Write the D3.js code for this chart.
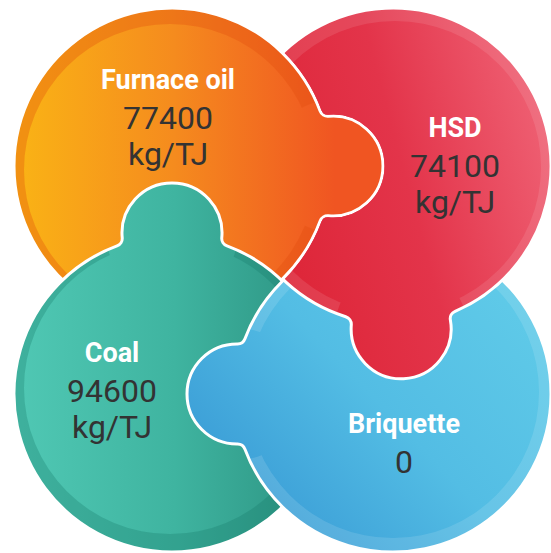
<!DOCTYPE html>
<html lang="en">
<head>
<meta charset="utf-8">
<script src="https://cdn.jsdelivr.net/npm/d3@7"></script>
<style>
  body { margin: 0; background: #fff; }
  svg { display: block; }
  .label { font-family: Roboto, "Noto Sans", sans-serif; font-weight: 700; fill: #fff; }
  .value { font-family: Roboto, "Noto Sans", sans-serif; font-weight: 400; fill: #333; }
</style>
</head>
<body>
<script>
  // data
  var fuels = ["Furnace oil", "HSD", "Coal", "Briquette"];
  var factors = [77400, 74100, 94600, 0];
  var units = ["kg/TJ", "kg/TJ", "kg/TJ", ""];

  var width = 551, height = 553;
  var R = 158, tabR = 50, fillet = 8;

  // grid position of each piece
  var x = d3.scalePoint().domain([0, 1]).range([172, 393]);
  var y = d3.scalePoint().domain([0, 1]).range([166, 394]);

  // layout of each piece: grid cell, tab direction/distance, text anchor, rim
  var layout = [
    {col: 0, row: 0, tab: 0,                 tabD: 161, text: [-4, -77],  rim: [12, -2, 4]},
    {col: 1, row: 0, tab: Math.PI / 2 - 0.05, tabD: 163, text: [62, -29], rim: [12, 2, 1]},
    {col: 0, row: 1, tab: -Math.PI / 2,      tabD: 161, text: [-60, -32], rim: [12, -2, -6]},
    {col: 1, row: 1, tab: Math.PI,           tabD: 156, text: [11, 39],   rim: [12, 0, -2]}
  ];

  var gradients = [
    {x1: 14, y1: 0, x2: 335, y2: 0, stops: ["#fab415", "#f58b1e", "#f05522"]},
    {x1: 250, y1: 200, x2: 551, y2: 120, stops: ["#dd2436", "#e3344a", "#ef6174"]},
    {x1: 14, y1: 0, x2: 335, y2: 0, stops: ["#50c8b4", "#3fb4a0", "#2a8f7e"]},
    {x1: 270, y1: 540, x2: 520, y2: 300, stops: ["#3a9cd6", "#53bde4", "#5fcae8"]}
  ];
  var rimColors = [["#e04a0c", 0.32], ["#ffffff", 0.1], ["#167a69", 0.3], ["#ffffff", 0.12]];

  var svg = d3.select("body").append("svg")
      .attr("width", width)
      .attr("height", height);

  var defs = svg.append("defs");

  gradients.forEach(function(g, i) {
    var lg = defs.append("linearGradient")
        .attr("id", "grad" + i)
        .attr("gradientUnits", "userSpaceOnUse")
        .attr("x1", g.x1).attr("y1", g.y1)
        .attr("x2", g.x2).attr("y2", g.y2);
    lg.selectAll("stop")
      .data(g.stops)
      .enter().append("stop")
        .attr("offset", (d, k) => k / (g.stops.length - 1))
        .attr("stop-color", d => d);
  });

  function geom(i) {
    var L = layout[i];
    var c = [x(L.col), y(L.row)];
    var u = [Math.cos(L.tab), Math.sin(L.tab)];
    var t = [c[0] + L.tabD * u[0], c[1] + L.tabD * u[1]];
    return {c: c, u: u, t: t, ang: L.tab, D: L.tabD};
  }

  // circle with a jigsaw tab, joined by small concave fillets
  function puzzlePath(i) {
    var g = geom(i), c = g.c, t = g.t, u = g.u, v = [-u[1], u[0]];
    var D = g.D, r = tabR, f = fillet;
    var a = ((R + f) * (R + f) - (r + f) * (r + f) + D * D) / (2 * D);
    var h = Math.sqrt((R + f) * (R + f) - a * a);
    var th = Math.atan2(h, a);
    var pP = [c[0] + a * u[0] + h * v[0], c[1] + a * u[1] + h * v[1]];
    var pM = [c[0] + a * u[0] - h * v[0], c[1] + a * u[1] - h * v[1]];
    var ang = (p, q) => Math.atan2(q[1] - p[1], q[0] - p[0]);

    var p = d3.path();
    p.arc(c[0], c[1], R, g.ang + th, g.ang + 2 * Math.PI - th);
    p.arc(pM[0], pM[1], f, ang(pM, c), ang(pM, t), true);
    p.arc(t[0], t[1], r, ang(t, pM), ang(t, pP));
    p.arc(pP[0], pP[1], f, ang(pP, t), ang(pP, c), true);
    p.closePath();
    return p.toString();
  }

  function rimPath(i) {
    var g = geom(i), rim = layout[i].rim;
    var ri = R - rim[0];
    var p = d3.path();
    p.arc(g.c[0], g.c[1], R, 0, 2 * Math.PI);
    p.closePath();
    p.moveTo(g.c[0] + rim[1] + ri, g.c[1] + rim[2]);
    p.arc(g.c[0] + rim[1], g.c[1] + rim[2], ri, 0, 2 * Math.PI);
    p.closePath();
    return p.toString();
  }

  // rim hidden around the tab neck
  layout.forEach(function(L, i) {
    var g = geom(i);
    var m = defs.append("mask").attr("id", "rimmask" + i)
        .attr("maskUnits", "userSpaceOnUse")
        .attr("x", 0).attr("y", 0).attr("width", width).attr("height", height);
    m.append("rect").attr("width", width).attr("height", height).attr("fill", "#fff");
    m.append("circle")
      .attr("cx", g.t[0]).attr("cy", g.t[1])
      .attr("r", tabR + fillet + 8)
      .attr("fill", "#000");
  });

  // red piece is redrawn on top of blue, but must stay under orange
  var redMask = defs.append("mask").attr("id", "redmask")
      .attr("maskUnits", "userSpaceOnUse")
      .attr("x", 0).attr("y", 0).attr("width", width).attr("height", height);
  redMask.append("rect").attr("width", width).attr("height", height).attr("fill", "#fff");
  redMask.append("path")
    .attr("d", puzzlePath(0))
    .attr("fill", "#000")
    .attr("stroke", "#000")
    .attr("stroke-width", 3);

  function drawPiece(parent, i) {
    var g = parent.append("g").attr("class", "piece");
    g.append("path")
      .attr("d", puzzlePath(i))
      .attr("fill", "url(#grad" + i + ")");
    g.append("path")
      .attr("d", rimPath(i))
      .attr("fill-rule", "evenodd")
      .attr("fill", rimColors[i][0])
      .attr("fill-opacity", rimColors[i][1])
      .attr("mask", "url(#rimmask" + i + ")");
    g.append("path")
      .attr("d", puzzlePath(i))
      .attr("fill", "none")
      .attr("stroke", "#fff")
      .attr("stroke-width", 3);
  }

  var pieces = svg.append("g");
  [1, 0, 2, 3].forEach(i => drawPiece(pieces, i));
  drawPiece(pieces.append("g").attr("mask", "url(#redmask)"), 1);

  // texts
  var fmt = d3.format("d");
  var texts = svg.append("g")
    .selectAll("g")
    .data(fuels)
    .enter().append("g")
      .attr("text-anchor", "middle")
      .attr("transform", function(d, i) {
        var g = geom(i), L = layout[i];
        return "translate(" + [g.c[0] + L.text[0], g.c[1] + L.text[1]] + ")";
      });

  texts.append("text")
    .attr("class", "label")
    .attr("font-size", 27)
    .text(d => d);

  texts.append("text")
    .attr("class", "value")
    .attr("y", 40)
    .attr("font-size", 32)
    .text((d, i) => fmt(factors[i]));

  texts.append("text")
    .attr("class", "value")
    .attr("y", 76)
    .attr("font-size", 32)
    .text((d, i) => units[i]);
</script>
</body>
</html>
